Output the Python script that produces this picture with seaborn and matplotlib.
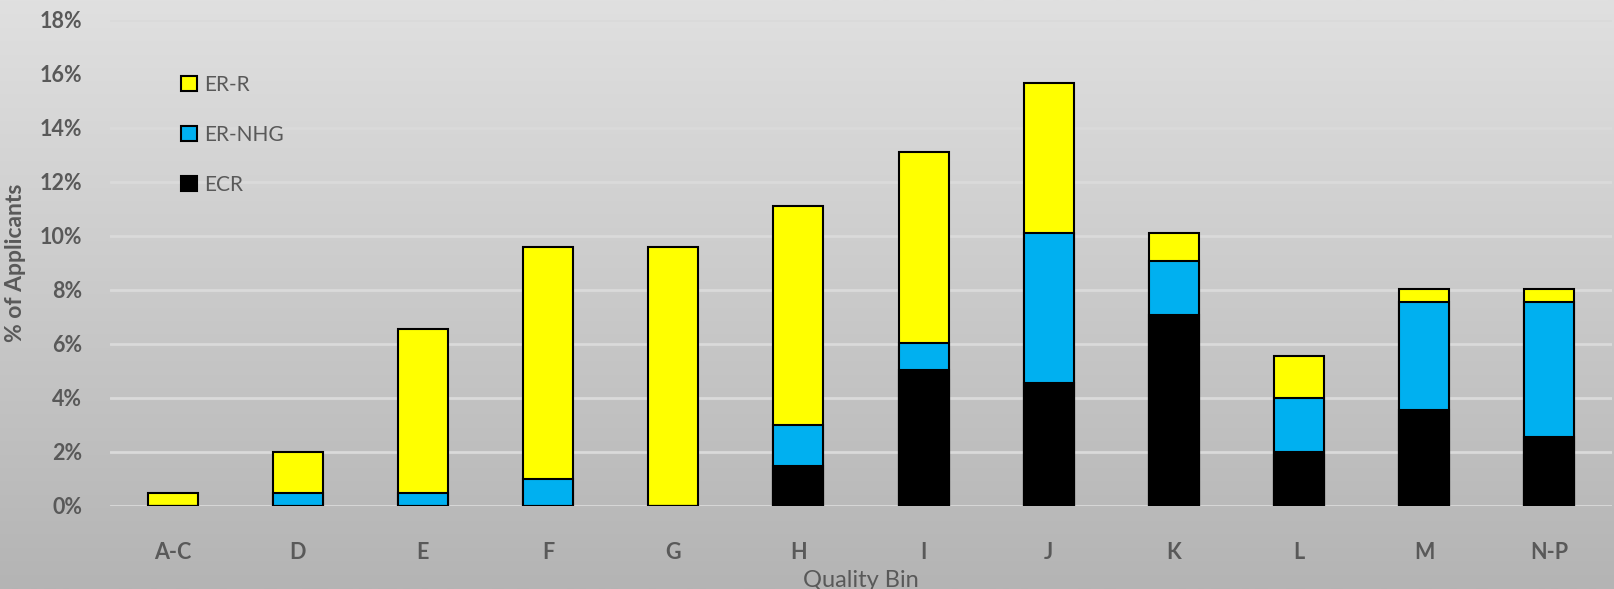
import numpy as np
import pandas as pd
import matplotlib
matplotlib.use("Agg")
import matplotlib.pyplot as plt
from matplotlib.patches import Patch
import seaborn as sns

categories = ["A-C", "D", "E", "F", "G", "H", "I", "J", "K", "L", "M", "N-P"]
ecr = [0.0, 0.0, 0.0, 0.0, 0.0, 1.5, 5.05, 4.55, 7.07, 2.0, 3.55, 2.55]
er_nhg = [0.0, 0.5, 0.5, 1.0, 0.0, 1.5, 1.0, 5.55, 2.0, 2.0, 4.0, 5.0]
er_r = [0.5, 1.5, 6.06, 8.6, 9.6, 8.1, 7.07, 5.55, 1.03, 1.55, 0.5, 0.5]
series_names = ["ER-R", "ER-NHG", "ECR"]
y_ticks = [0, 2, 4, 6, 8, 10, 12, 14, 16, 18]

sns.set_theme(style="white")
plt.rcParams["font.family"] = ["Lato", "DejaVu Sans"]

df = pd.DataFrame({"cat": categories, "ecr": ecr, "nhg": er_nhg, "err": er_r})
df["lvl_ecr"] = df["ecr"]
df["lvl_nhg"] = df["ecr"] + df["nhg"]
df["lvl_tot"] = df["lvl_nhg"] + df["err"]

fig = plt.figure(figsize=(16.15, 5.89), dpi=100)
# gradient background
bg = fig.add_axes([0, 0, 1, 1], zorder=-10)
grad = np.linspace(0, 1, 256).reshape(-1, 1)
top = np.array([224, 224, 224]) / 255
bot = np.array([180, 180, 180]) / 255
img = top[None, None, :] * (1 - grad[:, :, None]) + bot[None, None, :] * grad[:, :, None]
bg.imshow(img, aspect="auto", extent=[0, 1, 0, 1])
bg.axis("off")

ax = fig.add_axes([110 / 1615, 1 - 506 / 589, 1502 / 1615, 486 / 589])
ax.set_facecolor("none")

colors = {"ER-R": "#FFFF00", "ER-NHG": "#00B0F0", "ECR": "#000000"}
for col, name in [("lvl_tot", "ER-R"), ("lvl_nhg", "ER-NHG"), ("lvl_ecr", "ECR")]:
    sns.barplot(data=df, x="cat", y=col, color=colors[name], saturation=1,
                width=0.4, edgecolor="black", linewidth=1.5, ax=ax, zorder=3)

ax.set_ylim(0, 18)
ax.set_xlim(-0.5, len(categories) - 0.5)
ax.set_yticks(y_ticks)
ax.set_yticklabels([f"{v}%" for v in y_ticks])
ax.yaxis.grid(True, color="#DADADA", linewidth=2, zorder=0)
ax.set_axisbelow(True)
for s in ax.spines.values():
    s.set_visible(False)
ax.tick_params(axis="both", length=0, labelsize=15.5, labelcolor="#595959")
ax.tick_params(axis="y", pad=20)
ax.tick_params(axis="x", pad=26)
for lab in ax.get_xticklabels() + ax.get_yticklabels():
    lab.set_fontweight("bold")
ax.set_xlabel("Quality Bin", fontsize=17, color="#595959", labelpad=5)
ax.set_ylabel("% of Applicants", fontsize=16.5, color="#595959", fontweight="bold", labelpad=10)

handles = [Patch(facecolor=colors[n], edgecolor="black", linewidth=1.5, label=n) for n in series_names]
leg = ax.legend(handles=handles, loc="upper left", bbox_to_anchor=(0.035, 0.926), frameon=False,
                fontsize=15, labelcolor="#595959", handlelength=0.75, handleheight=0.75,
                handletextpad=0.35, labelspacing=1.45)

fig.savefig("out.png", dpi=100)
